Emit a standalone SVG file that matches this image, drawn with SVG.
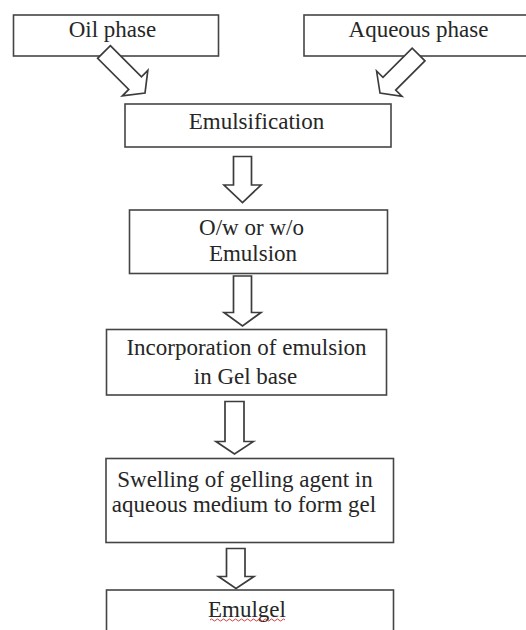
<svg xmlns="http://www.w3.org/2000/svg" width="526" height="630" viewBox="0 0 526 630">
  <style>
    .box { fill: #ffffff; stroke: #454545; stroke-width: 1.6; }
    .arrow { fill: #ffffff; stroke: #3c3c3c; stroke-width: 1.7; stroke-linejoin: miter; }
    .label { font-family: "Liberation Serif", "Times New Roman", serif; font-size: 23px; fill: #262626; text-anchor: middle; }
    .squiggle { fill: none; stroke: #d04040; stroke-width: 1; }
  </style>
  <defs>
    <polygon id="diag-arrow" points="-58,-9 -14,-9 -14,-18 0,0 -14,18 -14,9 -58,9"/>
  </defs>
  <rect width="526" height="630" fill="#ffffff"/>

  <g id="node-oil">
    <rect class="box" x="13.5" y="15" width="205" height="41"/>
    <text class="label" x="112.5" y="37">Oil phase</text>
  </g>
  <g id="node-aqueous">
    <rect class="box" x="304" y="15" width="240" height="41"/>
    <text class="label" x="418.5" y="37">Aqueous phase</text>
  </g>

  <g id="connectors">
    <use href="#diag-arrow" class="arrow" transform="translate(145 93) rotate(45)"/>
    <use href="#diag-arrow" class="arrow" transform="translate(380 93) rotate(135) scale(0.94 1)"/>
    <polygon class="arrow" points="233.5,156.5 251.5,156.5 251.5,185 261,185 242.5,202.5 224,185 233.5,185"/>
    <polygon class="arrow" points="233.5,276 251.5,276 251.5,312.5 261,312.5 242.5,326 224,312.5 233.5,312.5"/>
    <polygon class="arrow" points="225,401.5 244,401.5 244,441.5 253.5,441.5 234.5,454 216,441.5 225,441.5"/>
    <polygon class="arrow" points="226.5,548.5 245,548.5 245,576.5 254,576.5 236,588.5 218.5,576.5 226.5,576.5"/>
  </g>

  <g id="node-emulsification">
    <rect class="box" x="125" y="104" width="266" height="43"/>
    <text class="label" x="256.5" y="128.5">Emulsification</text>
  </g>
  <g id="node-emulsion">
    <rect class="box" x="129.5" y="210" width="258" height="63.5"/>
    <text class="label" x="251.5" y="234.5">O/w or w/o</text>
    <text class="label" x="253" y="261">Emulsion</text>
  </g>
  <g id="node-incorporation">
    <rect class="box" x="106.5" y="329.5" width="280" height="65.5"/>
    <text class="label" x="246.5" y="355">Incorporation of emulsion</text>
    <text class="label" x="245.5" y="383.5">in Gel base</text>
  </g>
  <g id="node-swelling">
    <rect class="box" x="106" y="458.5" width="287.5" height="84"/>
    <text class="label" x="245" y="486.5">Swelling of gelling agent in</text>
    <text class="label" x="244" y="511.5">aqueous medium to form gel</text>
  </g>
  <g id="node-emulgel">
    <rect class="box" x="106.5" y="590" width="287" height="60"/>
    <text class="label" x="247" y="616.5">Emulgel</text>
    <path class="squiggle" d="M210,620 q1.5,-2 3,0 t3,0 t3,0 t3,0 t3,0 t3,0 t3,0 t3,0 t3,0 t3,0 t3,0 t3,0 t3,0 t3,0 t3,0 t3,0 t3,0 t3,0 t3,0 t3,0 t3,0 t3,0 t3,0 t3,0 t3,0"/>
  </g>
</svg>
